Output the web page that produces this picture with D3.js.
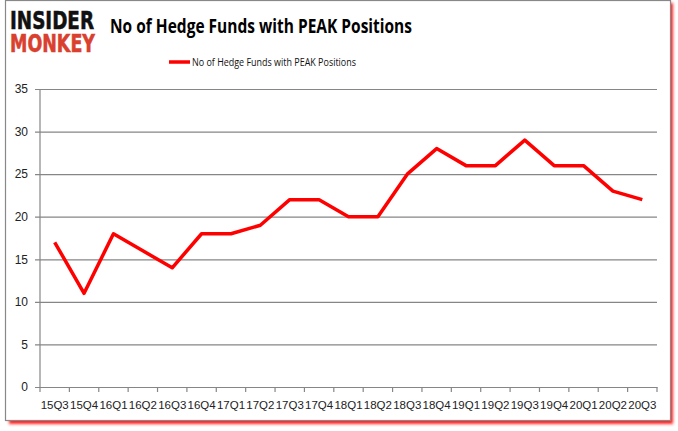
<!DOCTYPE html>
<html>
<head>
<meta charset="utf-8">
<script src="https://cdn.jsdelivr.net/npm/d3@7"></script>
<style>
  body { margin: 0; background: #fff; }
  svg { display: block; }
</style>
</head>
<body>
<div id="chart"></div>
<script>
const quarters = ["15Q3", "15Q4", "16Q1", "16Q2", "16Q3", "16Q4", "17Q1", "17Q2", "17Q3", "17Q4",
  "18Q1", "18Q2", "18Q3", "18Q4", "19Q1", "19Q2", "19Q3", "19Q4", "20Q1", "20Q2", "20Q3"];
const funds = [17, 11, 18, 16, 14, 18, 18, 19, 22, 22, 20, 20, 25, 28, 26, 26, 29, 26, 26, 23, 22];
const yTicks = [0, 5, 10, 15, 20, 25, 30, 35];
const seriesName = "No of Hedge Funds with PEAK Positions";

const width = 678, height = 431;
const margin = { top: 89, right: 21, bottom: 44, left: 40 };
const innerWidth = width - margin.left - margin.right;
const innerHeight = height - margin.top - margin.bottom;

const svg = d3.select("#chart").append("svg")
  .attr("width", width)
  .attr("height", height);

// frame with red shadow
const filter = svg.append("defs").append("filter").attr("id", "shadow")
  .attr("x", "-5%").attr("y", "-5%").attr("width", "110%").attr("height", "110%");
filter.append("feGaussianBlur").attr("stdDeviation", 1.5);
svg.append("rect")
  .attr("x", 9).attr("y", 3).attr("width", 664).attr("height", 421)
  .attr("fill", "#ff2020").attr("filter", "url(#shadow)");
svg.append("rect")
  .attr("x", 5.5).attr("y", 0.5).attr("width", 665).attr("height", 420)
  .attr("fill", "#fff").attr("stroke", "#888").attr("stroke-width", 1.2);

// logo
svg.append("text")
  .attr("x", 10).attr("y", 29)
  .attr("font-family", "DejaVu Sans").attr("font-weight", "bold").attr("font-size", 25)
  .attr("textLength", 84).attr("lengthAdjust", "spacingAndGlyphs")
  .attr("fill", "#111").attr("stroke", "#111").attr("stroke-width", 0.6)
  .text("INSIDER");
svg.append("text")
  .attr("x", 10).attr("y", 52)
  .attr("font-family", "DejaVu Sans").attr("font-weight", "bold").attr("font-size", 25)
  .attr("textLength", 85).attr("lengthAdjust", "spacingAndGlyphs")
  .attr("fill", "#d9402e").attr("stroke", "#d9402e").attr("stroke-width", 0.6)
  .text("MONKEY");

// title
svg.append("text")
  .attr("x", 110).attr("y", 33)
  .attr("font-family", "Open Sans, sans-serif").attr("font-weight", "bold").attr("font-size", 20)
  .attr("textLength", 302).attr("lengthAdjust", "spacingAndGlyphs")
  .attr("fill", "#000").text(seriesName);

// legend
svg.append("line")
  .attr("x1", 169).attr("x2", 190).attr("y1", 62).attr("y2", 62)
  .attr("stroke", "#ff0000").attr("stroke-width", 3.5);
svg.append("text")
  .attr("x", 192).attr("y", 66)
  .attr("font-family", "Open Sans, sans-serif").attr("font-size", 11)
  .attr("textLength", 164).attr("lengthAdjust", "spacingAndGlyphs")
  .attr("fill", "#111").text(seriesName);

const innerChart = svg.append("g")
  .attr("transform", `translate(${margin.left}, ${margin.top})`);

const xScale = d3.scaleBand()
  .domain(quarters)
  .range([0, innerWidth]);

const yScale = d3.scaleLinear()
  .domain([0, 35])
  .range([innerHeight, 0]);

// y axis with gridlines
const yAxis = innerChart.append("g")
  .call(d3.axisLeft(yScale)
    .tickValues(yTicks)
    .tickSize(-innerWidth)
    .tickPadding(12)
  );
yAxis.select(".domain").remove();
yAxis.selectAll(".tick line")
  .attr("x1", -5).attr("x2", innerWidth)
  .attr("stroke", "#868686").attr("stroke-width", 1.2);
yAxis.selectAll(".tick text")
  .attr("font-family", "Liberation Sans, sans-serif").attr("font-size", 12).attr("fill", "#222");

innerChart.append("line")
  .attr("x1", 0).attr("x2", 0).attr("y1", 0).attr("y2", innerHeight)
  .attr("stroke", "#868686").attr("stroke-width", 1.2);

// x axis
const xAxis = innerChart.append("g")
  .attr("transform", `translate(0, ${innerHeight})`)
  .call(d3.axisBottom(xScale).tickSize(0).tickPadding(14));
xAxis.select(".domain").attr("stroke", "#868686").attr("stroke-width", 1.2);
xAxis.selectAll(".tick text")
  .attr("font-family", "Liberation Sans, sans-serif").attr("font-size", 11.5).attr("fill", "#222");

// category boundary ticks
innerChart.append("g")
  .selectAll("line")
  .data(d3.range(quarters.length + 1))
  .join("line")
    .attr("x1", i => i * xScale.step())
    .attr("x2", i => i * xScale.step())
    .attr("y1", innerHeight)
    .attr("y2", innerHeight + 5)
    .attr("stroke", "#868686").attr("stroke-width", 1.2);

// the line
const lineGenerator = d3.line()
  .x((d, i) => xScale(quarters[i]) + xScale.bandwidth() / 2)
  .y(d => yScale(d));

innerChart.append("path")
  .datum(funds)
  .attr("d", lineGenerator)
  .attr("fill", "none")
  .attr("stroke", "#ff0000")
  .attr("stroke-width", 3.5)
  .attr("stroke-linejoin", "round");
</script>
</body>
</html>
